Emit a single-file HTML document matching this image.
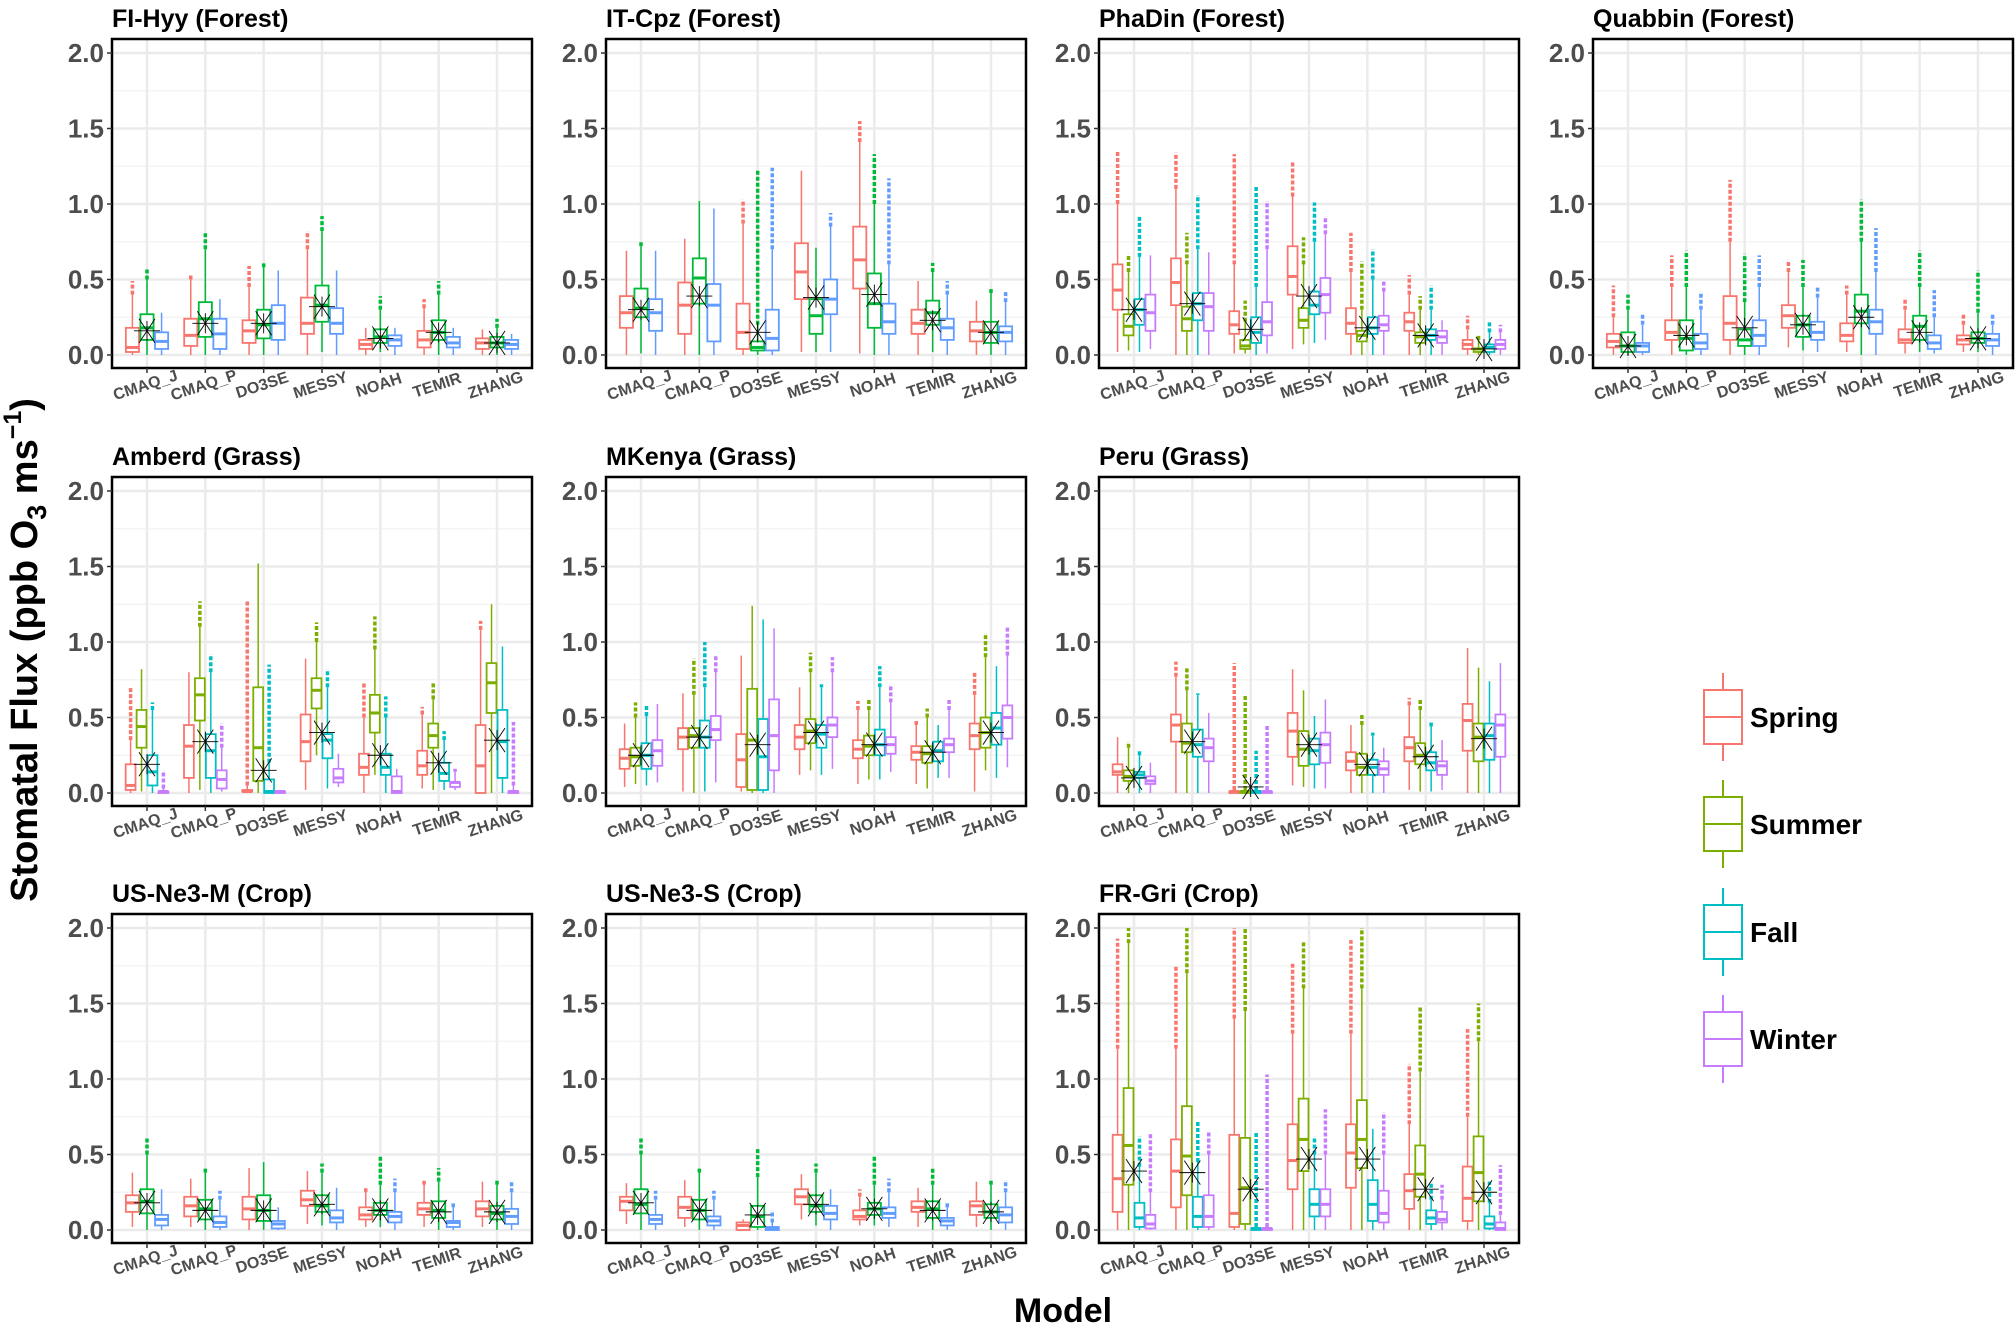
<!DOCTYPE html>
<html><head><meta charset="utf-8"><style>
html,body{margin:0;padding:0;background:#fff}
svg{display:block}
text{font-family:"Liberation Sans",Arial,sans-serif;font-weight:bold}
</style></head><body>
<svg id="chart" width="2016" height="1326" viewBox="0 0 2016 1326" xmlns="http://www.w3.org/2000/svg">
<text transform="translate(37,650) rotate(-90)" text-anchor="middle" font-size="38" fill="#000">Stomatal Flux (ppb O<tspan font-size="27" dy="9">3</tspan><tspan dy="-9"> ms</tspan><tspan font-size="25" dy="-16">−1</tspan><tspan dy="16">)</tspan></text>
<text x="1063" y="1322" text-anchor="middle" font-size="34" fill="#000">Model</text>
</svg>
<script>
const models = ["CMAQ_J","CMAQ_P","DO3SE","MESSY","NOAH","TEMIR","ZHANG"];
const yTicks = [0,0.5,1.0,1.5,2.0];
const yTickLabels = ["0.0","0.5","1.0","1.5","2.0"];
const seasonNames = ["Spring","Summer","Fall","Winter"];
const sites = ["FI-Hyy (Forest)","IT-Cpz (Forest)","PhaDin (Forest)","Quabbin (Forest)","Amberd (Grass)","MKenya (Grass)","Peru (Grass)","US-Ne3-M (Crop)","US-Ne3-S (Crop)","FR-Gri (Crop)"];
const siteCol = [0,1,2,3,0,1,2,0,1,2];
const siteRow = [0,0,0,0,1,1,1,2,2,2];
const seasonCounts = [3,3,4,3,4,4,4,3,3,4];
// stats: [lowWhisker, q1, median, q3, highWhisker, maxOutlier]
const statsFIHyy = [
 [[0,0.02,0.05,0.18,0.40,0.49],[0,0.1,0.18,0.27,0.50,0.57],[0,0.04,0.09,0.15,0.28,0]],
 [[0,0.06,0.13,0.24,0.50,0.53],[0,0.12,0.24,0.35,0.70,0.81],[0,0.04,0.14,0.24,0.37,0]],
 [[0,0.08,0.16,0.23,0.45,0.59],[0,0.11,0.2,0.3,0.58,0.62],[0,0.1,0.21,0.33,0.56,0]],
 [[0,0.14,0.21,0.38,0.70,0.82],[0.02,0.22,0.33,0.46,0.82,0.92],[0,0.14,0.21,0.31,0.56,0]],
 [[0,0.04,0.07,0.1,0.18,0],[0.02,0.08,0.12,0.17,0.30,0.39],[0,0.06,0.1,0.13,0.18,0]],
 [[0,0.05,0.1,0.16,0.31,0.37],[0,0.1,0.15,0.23,0.40,0.49],[0,0.05,0.08,0.12,0.18,0]],
 [[0,0.04,0.08,0.11,0.17,0],[0,0.05,0.08,0.12,0.18,0.24],[0,0.04,0.07,0.1,0.14,0]]];
const statsITCpz = [
 [[0,0.18,0.28,0.39,0.69,0],[0.01,0.25,0.31,0.44,0.72,0.76],[0,0.16,0.28,0.37,0.69,0]],
 [[0,0.14,0.33,0.48,0.77,0],[0,0.34,0.51,0.64,1.02,0],[0,0.09,0.33,0.47,0.97,0]],
 [[0,0.04,0.15,0.34,0.87,1.03],[0,0.03,0.05,0.09,0.2,1.22],[0,0.03,0.11,0.3,0.7,1.24]],
 [[0.02,0.37,0.55,0.74,1.22,0],[0.02,0.14,0.26,0.37,0.71,0],[0.02,0.27,0.37,0.50,0.85,0.94]],
 [[0.01,0.44,0.63,0.85,1.41,1.55],[0,0.18,0.34,0.54,1.0,1.33],[0,0.14,0.22,0.34,0.6,1.17]],
 [[0,0.14,0.21,0.30,0.49,0],[0.02,0.2,0.28,0.36,0.55,0.61],[0,0.1,0.18,0.24,0.4,0.49]],
 [[0,0.09,0.16,0.22,0.36,0],[0,0.08,0.15,0.22,0.41,0.44],[0,0.09,0.15,0.19,0.35,0.42]]];
const statsPhaDin = [
 [[0.02,0.3,0.43,0.6,1.0,1.35],[0.03,0.13,0.19,0.27,0.55,0.67],[0.02,0.2,0.3,0.37,0.65,0.92],[0.04,0.16,0.28,0.4,0.66,0]],
 [[0,0.33,0.48,0.64,1.1,1.34],[0,0.16,0.24,0.32,0.6,0.81],[0,0.23,0.34,0.41,0.7,1.06],[0,0.16,0.32,0.41,0.68,0]],
 [[0.01,0.14,0.2,0.29,0.6,1.33],[0.01,0.04,0.06,0.1,0.22,0.36],[0,0.08,0.15,0.25,0.45,1.12],[0.01,0.13,0.22,0.35,0.7,1.02]],
 [[0.04,0.4,0.52,0.72,1.05,1.28],[0.07,0.18,0.23,0.31,0.6,0.78],[0.08,0.27,0.33,0.42,0.75,1.01],[0.1,0.28,0.4,0.51,0.8,0.92]],
 [[0,0.14,0.21,0.31,0.55,0.81],[0,0.09,0.13,0.16,0.3,0.62],[0,0.14,0.18,0.25,0.5,0.7],[0,0.16,0.2,0.26,0.42,0.49]],
 [[0,0.16,0.22,0.28,0.4,0.53],[0,0.08,0.12,0.15,0.3,0.39],[0,0.1,0.13,0.17,0.3,0.46],[0,0.08,0.12,0.16,0.23,0]],
 [[0,0.04,0.07,0.1,0.17,0.26],[0,0.02,0.04,0.04,0.1,0.14],[0,0.02,0.05,0.07,0.15,0.22],[0,0.04,0.07,0.1,0.15,0.2]]];
const statsQuabbin = [
 [[0,0.05,0.09,0.14,0.25,0.46],[0,0.02,0.06,0.15,0.3,0.4],[0,0.02,0.06,0.08,0.2,0.27]],
 [[0,0.1,0.15,0.23,0.45,0.66],[0,0.03,0.11,0.23,0.45,0.69],[0,0.04,0.08,0.14,0.3,0.42]],
 [[0,0.1,0.21,0.39,0.75,1.16],[0,0.06,0.1,0.17,0.35,0.67],[0,0.06,0.13,0.23,0.45,0.66]],
 [[0.05,0.18,0.26,0.33,0.55,0.63],[0.03,0.12,0.2,0.26,0.45,0.63],[0.02,0.1,0.15,0.22,0.38,0.45]],
 [[0.02,0.09,0.13,0.21,0.4,0.46],[0,0.21,0.29,0.4,0.75,1.03],[0,0.14,0.22,0.3,0.55,0.84]],
 [[0.01,0.08,0.1,0.17,0.3,0.38],[0.02,0.1,0.19,0.26,0.45,0.69],[0.01,0.04,0.08,0.13,0.25,0.43]],
 [[0.02,0.07,0.1,0.13,0.2,0.28],[0.02,0.08,0.11,0.15,0.28,0.56],[0,0.06,0.1,0.14,0.2,0.28]]];
const statsAmberd = [
 [[0,0.02,0.05,0.19,0.35,0.7],[0.01,0.3,0.44,0.55,0.82,0],[0,0.05,0.14,0.25,0.55,0.6],[0,0,0.01,0.01,0.03,0.15]],
 [[0,0.1,0.31,0.45,0.8,0],[0.02,0.48,0.65,0.76,1.1,1.27],[0,0.1,0.28,0.39,0.8,0.92],[0.01,0.03,0.09,0.15,0.3,0.46]],
 [[0,0.01,0.01,0.02,0.05,1.28],[0,0.08,0.3,0.7,1.52,0],[0,0,0.01,0.09,0.2,0.85],[0,0,0.01,0.01,0.02,0]],
 [[0.02,0.21,0.34,0.52,0.89,0],[0.25,0.56,0.68,0.76,1.0,1.13],[0.03,0.23,0.35,0.39,0.7,0.82],[0.04,0.07,0.1,0.16,0.26,0]],
 [[0,0.12,0.17,0.26,0.5,0.73],[0.12,0.4,0.53,0.65,0.95,1.17],[0,0.12,0.17,0.26,0.5,0.64],[0,0,0.01,0.11,0.16,0]],
 [[0.03,0.12,0.18,0.28,0.52,0.57],[0.02,0.3,0.38,0.46,0.62,0.73],[0.02,0.08,0.13,0.2,0.35,0.41],[0.02,0.04,0.07,0.07,0.14,0.16]],
 [[0,0,0.18,0.45,1.08,1.14],[0,0.53,0.73,0.86,1.25,0],[0,0.1,0.34,0.55,0.97,0],[0,0,0.01,0.01,0.05,0.47]]];
const statsMKenya = [
 [[0.04,0.16,0.23,0.29,0.46,0],[0.06,0.18,0.24,0.3,0.5,0.6],[0.05,0.16,0.25,0.33,0.51,0.58],[0.07,0.18,0.28,0.35,0.59,0]],
 [[0.01,0.29,0.37,0.43,0.66,0],[0,0.3,0.38,0.43,0.65,0.89],[0.01,0.3,0.37,0.48,0.7,1.0],[0.07,0.35,0.42,0.51,0.8,0.91]],
 [[0.01,0.04,0.22,0.39,0.91,0],[0,0.02,0.35,0.69,1.24,0],[0,0.02,0.24,0.49,1.15,0],[0,0.15,0.38,0.62,1.09,0]],
 [[0.12,0.29,0.37,0.45,0.7,0],[0.15,0.33,0.41,0.49,0.8,0.93],[0.12,0.3,0.39,0.45,0.7,0.72],[0.16,0.37,0.45,0.5,0.8,0.9]],
 [[0.06,0.23,0.29,0.35,0.55,0.61],[0.09,0.25,0.31,0.38,0.55,0.62],[0.09,0.25,0.32,0.42,0.7,0.84],[0.14,0.26,0.32,0.37,0.6,0.72]],
 [[0.06,0.22,0.27,0.31,0.45,0.49],[0.03,0.2,0.26,0.31,0.5,0.56],[0.1,0.21,0.28,0.34,0.45,0],[0.1,0.27,0.32,0.36,0.55,0.62]],
 [[0.01,0.29,0.38,0.46,0.65,0.8],[0.15,0.3,0.4,0.5,0.9,1.06],[0.1,0.32,0.43,0.53,0.84,0],[0.17,0.36,0.5,0.58,0.91,1.1]]];
const statsPeru = [
 [[0,0.12,0.14,0.19,0.37,0],[0,0.08,0.11,0.15,0.3,0.34],[0,0.1,0.12,0.14,0.25,0.28],[0,0.06,0.08,0.11,0.2,0]],
 [[0,0.34,0.45,0.52,0.77,0.87],[0,0.27,0.33,0.46,0.68,0.83],[0,0.24,0.32,0.42,0.65,0.66],[0,0.21,0.3,0.36,0.53,0]],
 [[0,0,0.01,0.01,0.02,0.86],[0,0,0.01,0.01,0.02,0.65],[0,0,0.01,0.01,0.02,0.28],[0,0,0.01,0.01,0.02,0.45]],
 [[0.05,0.24,0.41,0.53,0.82,0],[0.04,0.18,0.29,0.41,0.68,0],[0.03,0.19,0.28,0.36,0.51,0],[0.03,0.2,0.32,0.4,0.62,0]],
 [[0,0.15,0.21,0.27,0.45,0],[0,0.12,0.17,0.26,0.45,0.52],[0,0.12,0.17,0.22,0.38,0.4],[0,0.12,0.16,0.21,0.3,0]],
 [[0.02,0.21,0.3,0.37,0.58,0.63],[0.01,0.19,0.25,0.33,0.55,0.62],[0.01,0.15,0.2,0.27,0.44,0.47],[0.02,0.12,0.18,0.21,0.35,0]],
 [[0,0.28,0.48,0.59,0.96,0],[0,0.21,0.37,0.46,0.83,0],[0,0.22,0.38,0.46,0.74,0],[0,0.24,0.45,0.52,0.86,0]]];
const statsNe3M = [
 [[0.02,0.12,0.18,0.23,0.38,0],[0,0.11,0.19,0.27,0.5,0.61],[0,0.03,0.07,0.1,0.27,0]],
 [[0.02,0.09,0.16,0.22,0.34,0],[0,0.07,0.14,0.2,0.38,0.42],[0,0.02,0.05,0.09,0.2,0.26]],
 [[0,0.07,0.14,0.22,0.41,0],[0,0.06,0.13,0.23,0.45,0],[0,0.01,0.04,0.06,0.15,0]],
 [[0.04,0.16,0.2,0.26,0.39,0],[0.03,0.12,0.16,0.23,0.38,0.44],[0,0.05,0.08,0.13,0.28,0]],
 [[0.02,0.07,0.1,0.15,0.25,0.28],[0.02,0.1,0.13,0.18,0.3,0.49],[0,0.05,0.09,0.12,0.25,0.34]],
 [[0.02,0.1,0.14,0.18,0.3,0.33],[0,0.08,0.13,0.19,0.32,0.41],[0,0.02,0.05,0.06,0.15,0.18]],
 [[0.02,0.09,0.14,0.19,0.32,0],[0,0.07,0.11,0.16,0.3,0.33],[0,0.04,0.09,0.14,0.25,0.33]]];
const statsNe3S = [
 [[0.04,0.13,0.19,0.22,0.31,0],[0,0.11,0.17,0.27,0.5,0.61],[0,0.04,0.07,0.1,0.2,0.26]],
 [[0.02,0.08,0.15,0.22,0.33,0],[0,0.07,0.13,0.2,0.38,0.42],[0,0.03,0.06,0.09,0.2,0.26]],
 [[0,0,0.03,0.05,0.07,0],[0,0.02,0.09,0.16,0.35,0.54],[0,0,0.01,0.02,0.05,0.13]],
 [[0.07,0.17,0.22,0.27,0.37,0],[0.03,0.12,0.16,0.23,0.38,0.44],[0,0.07,0.11,0.16,0.27,0]],
 [[0.03,0.07,0.09,0.13,0.22,0.27],[0.03,0.1,0.14,0.18,0.3,0.49],[0.02,0.08,0.11,0.15,0.25,0.34]],
 [[0.02,0.12,0.15,0.19,0.28,0],[0,0.08,0.14,0.19,0.3,0.41],[0,0.03,0.06,0.08,0.15,0.18]],
 [[0.02,0.1,0.16,0.19,0.32,0],[0,0.08,0.12,0.17,0.3,0.33],[0,0.05,0.1,0.15,0.25,0.33]]];
const statsFRGri = [
 [[0,0.12,0.34,0.63,1.2,1.93],[0,0.3,0.56,0.94,1.9,2.0],[0,0.02,0.08,0.18,0.42,0.62],[0,0.01,0.04,0.1,0.25,0.64]],
 [[0,0.15,0.39,0.6,1.2,1.75],[0,0.23,0.49,0.82,1.7,2.0],[0,0.02,0.09,0.22,0.45,0.72],[0,0.02,0.09,0.23,0.5,0.66]],
 [[0,0.02,0.11,0.63,1.4,2.0],[0,0.04,0.28,0.61,1.45,2.0],[0,0,0.01,0.01,0.02,0.65],[0,0,0.01,0.01,0.02,1.03]],
 [[0,0.27,0.46,0.7,1.3,1.77],[0,0.39,0.6,0.87,1.6,1.91],[0,0.09,0.17,0.27,0.5,0.62],[0,0.09,0.17,0.27,0.5,0.8]],
 [[0,0.28,0.51,0.7,1.3,1.92],[0,0.41,0.6,0.86,1.6,2.0],[0,0.06,0.17,0.33,0.67,0],[0,0.05,0.11,0.26,0.5,0.78]],
 [[0,0.14,0.26,0.37,0.7,1.1],[0,0.22,0.37,0.56,1.05,1.48],[0,0.04,0.08,0.13,0.2,0.31],[0,0.05,0.07,0.12,0.2,0.3]],
 [[0,0.06,0.21,0.42,0.75,1.33],[0,0.19,0.38,0.62,1.25,1.5],[0,0.01,0.04,0.09,0.18,0.32],[0,0,0.01,0.05,0.1,0.43]]];
const siteStats = [statsFIHyy,statsITCpz,statsPhaDin,statsQuabbin,statsAmberd,statsMKenya,statsPeru,statsNe3M,statsNe3S,statsFRGri];
const meansFIHyy = [0.16,0.21,0.21,0.32,0.11,0.15,0.08];
const meansITCpz = [0.30,0.39,0.15,0.38,0.40,0.23,0.15];
const meansPhaDin = [0.30,0.34,0.17,0.39,0.18,0.13,0.04];
const meansQuabbin = [0.06,0.13,0.18,0.20,0.25,0.15,0.11];
const meansAmberd = [0.19,0.34,0.15,0.40,0.25,0.20,0.35];
const meansMKenya = [0.25,0.37,0.32,0.40,0.32,0.27,0.40];
const meansPeru = [0.10,0.34,0.04,0.32,0.19,0.24,0.36];
const meansNe3M = [0.18,0.13,0.13,0.17,0.13,0.12,0.12];
const meansNe3S = [0.18,0.13,0.10,0.17,0.14,0.13,0.12];
const meansFRGri = [0.39,0.38,0.27,0.47,0.47,0.27,0.25];
const siteMeans = [meansFIHyy,meansITCpz,meansPhaDin,meansQuabbin,meansAmberd,meansMKenya,meansPeru,meansNe3M,meansNe3S,meansFRGri];

const pal3 = ["#F8766D","#00BA38","#619CFF"];
const pal4 = ["#F8766D","#7CAE00","#00BFC4","#C77CFF"];
const NS = "http://www.w3.org/2000/svg";
const svg = document.getElementById("chart");
const colLeft = [112,606,1099,1593], rowTop = [39,477,914], PW = 420, PH = 329;
function mk(tag, attrs, parent){ const e=document.createElementNS(NS,tag); for(const k in attrs) e.setAttribute(k,attrs[k]); (parent||svg).appendChild(e); return e; }

sites.forEach((site, si) => {
  const L = colLeft[siteCol[si]], T = rowTop[siteRow[si]];
  const n = seasonCounts[si], pal = n===4?pal4:pal3;
  const yS = v => T + 14 + (2 - v) / 2 * 302;
  const unit = PW / (models.length - 1 + 1.2);
  const xS = i => L + unit * (0.6 + i);
  const g = mk("g", {});
  
  
  const title = mk("text", {x:L, y:T-12, "font-size":25, fill:"#000"}, g);
  title.textContent = site;
  
  
  for (let v = 0.25; v < 2.1; v += 0.5) mk("line", {x1:L, x2:L+PW, y1:yS(v), y2:yS(v), stroke:"#f2f2f2", "stroke-width":1.2}, g);
  yTicks.forEach(v => mk("line", {x1:L, x2:L+PW, y1:yS(v), y2:yS(v), stroke:"#ebebeb", "stroke-width":2.5}, g));
  models.forEach((m,i) => mk("line", {x1:xS(i), x2:xS(i), y1:T, y2:T+PH, stroke:"#ebebeb", "stroke-width":2.5}, g));
  const dodge = unit * 0.75, bw = dodge / n;
  siteStats[si].forEach((groups, mi) => {
    groups.forEach((s, k) => {
      const cx = xS(mi) - dodge/2 + bw*(k+0.5);
      const c = pal[k];
      const bg = mk("g", {}, g);
      
      
      if (s[5] > 0) mk("line", {x1:cx, x2:cx, y1:yS(s[4]), y2:yS(s[5]), stroke:c, "stroke-width":3.5, "stroke-dasharray":"4 2"}, bg);
      mk("line", {x1:cx, x2:cx, y1:yS(s[0]), y2:yS(s[4]), stroke:c, "stroke-width":1.5}, bg);
      const w = bw*0.9;
      mk("rect", {x:cx-w/2, y:yS(s[3]), width:w, height:Math.max(1,yS(s[1])-yS(s[3])), fill:"#fff", stroke:c, "stroke-width":1.8}, bg);
      mk("line", {x1:cx-w/2, x2:cx+w/2, y1:yS(s[2]), y2:yS(s[2]), stroke:c, "stroke-width":3}, bg);
    });
    const mv = siteMeans[si][mi], mx = xS(mi), my = yS(mv);
    const mg = mk("g", {stroke:"#000", "stroke-width":0.9}, g);
    
    
    mk("line", {x1:mx-8, x2:mx+8, y1:my-12, y2:my+12}, mg);
    mk("line", {x1:mx-8, x2:mx+8, y1:my+12, y2:my-12}, mg);
    mk("line", {x1:mx-13, x2:mx+13, y1:my, y2:my}, mg);
    mk("line", {x1:mx, x2:mx, y1:my-10, y2:my+10}, mg);
  });
  const fr = mk("rect", {x:L, y:T, width:PW, height:PH, fill:"none", stroke:"#000", "stroke-width":2.5}, g);
  
  
  yTicks.forEach((v, i) => {
    mk("line", {x1:L-5, x2:L, y1:yS(v), y2:yS(v), stroke:"#333", "stroke-width":1.5}, g);
    const t = mk("text", {x:L-8, y:yS(v)+9, "text-anchor":"end", "font-size":26, fill:"#4d4d4d"}, g);
    t.textContent = yTickLabels[i];
    
    
  });
  models.forEach((m, i) => {
    mk("line", {x1:xS(i), x2:xS(i), y1:T+PH, y2:T+PH+5, stroke:"#333", "stroke-width":1.5}, g);
    const t = mk("text", {transform:`translate(${xS(i)},${T+PH+22}) rotate(-18)`, "text-anchor":"middle", "font-size":16, fill:"#4d4d4d"}, g);
    t.textContent = m;
    
    
  });
});

const legY = [717,824,932,1039];
seasonNames.forEach((s, k) => {
  const g = mk("g", {});
  
  
  const c = pal4[k], cy = legY[k];
  mk("line", {x1:1723, x2:1723, y1:cy-44, y2:cy+44, stroke:c, "stroke-width":2}, g);
  mk("rect", {x:1704, y:cy-27, width:38, height:54, fill:"#fff", stroke:c, "stroke-width":2}, g);
  mk("line", {x1:1704, x2:1742, y1:cy, y2:cy, stroke:c, "stroke-width":2}, g);
  const t = mk("text", {x:1750, y:cy+10, "font-size":28, fill:"#000"}, g);
  t.textContent = s;
});
</script>
</body></html>
